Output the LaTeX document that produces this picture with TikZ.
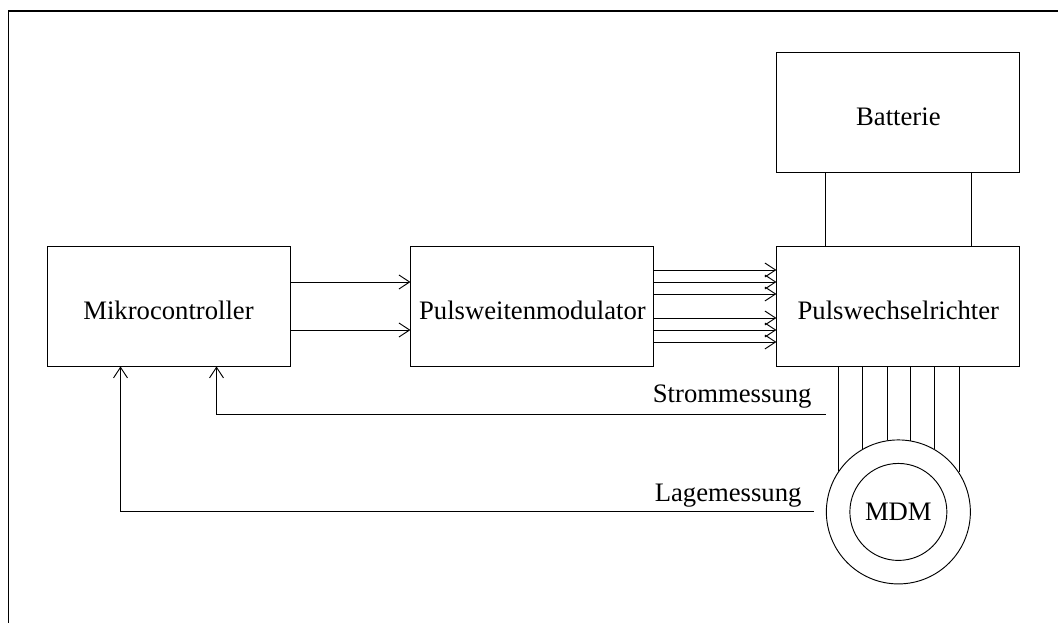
\documentclass[tikz,border=0pt]{standalone}
\usepackage{fontspec}
\setmainfont{Liberation Serif}
\usetikzlibrary{arrows.meta, positioning}

\begin{document}
\begin{tikzpicture}[x=0.75pt, y=-0.75pt, node distance={54.75pt},
		font=\fontsize{20}{24}\selectfont, line width=0.7pt,
		>={Straight Barb[length=8pt, width=10.5pt]},
		block/.style = {draw, minimum width=182.25pt, minimum height=90pt, inner sep=0pt,
			text height=20pt, text depth=0pt},
		ring/.style = {draw, circle, inner sep=0pt},
		tag/.style = {anchor=base east, inner sep=0pt}]
		\useasboundingbox (0,0) rectangle (1058,623);
		\draw[line width=1.2pt] (8.5,623) -- (8.5,11) -- (1058,11);
		\node[block] (mc) at (168.5,306) {Mikrocontroller};
		\node[block] (pwm) [right=90pt of mc] {Pulsweitenmodulator};
		\node[block] (pwr) [right=91.5pt of pwm] {Pulswechselrichter};
		\node[block] (bat) [above=of pwr] {Batterie};
		\node[ring, minimum size=108pt] (motor) [below=of pwr] {};
		\node[ring, minimum size=72.75pt] (mdm) at (motor) {MDM};
		\coordinate (strom) at ([yshift=-36pt]motor.west |- pwr.south);
		\coordinate (lage) at ([xshift=-9pt]motor.west);
		\foreach \d in {-18,18}
			\draw[->] ([yshift=\d pt]mc.east) -- ([yshift=\d pt]pwm.west);
		\foreach \d in {-27,-18,-9,9,18,27}
			\draw[->] ([yshift=\d pt]pwm.east) -- ([yshift=\d pt]pwr.west);
		\foreach \d in {-55,55}
			\draw ([xshift=\d pt]bat.south) -- ([xshift=\d pt]pwr.north);
		\foreach \a in {33.6,60,80.4,99.6,120,146.4}
			\draw (motor.\a) -- (motor.\a |- pwr.south);
		\draw[->] (strom) node[tag, xshift=-10.5pt, yshift=9pt] {Strommessung} -| ([xshift=36pt]mc.south);
		\draw[->] (lage) node[tag, xshift=-9pt, yshift=7.5pt] {Lagemessung} -| ([xshift=-36pt]mc.south);
	\end{tikzpicture}
\end{document}
